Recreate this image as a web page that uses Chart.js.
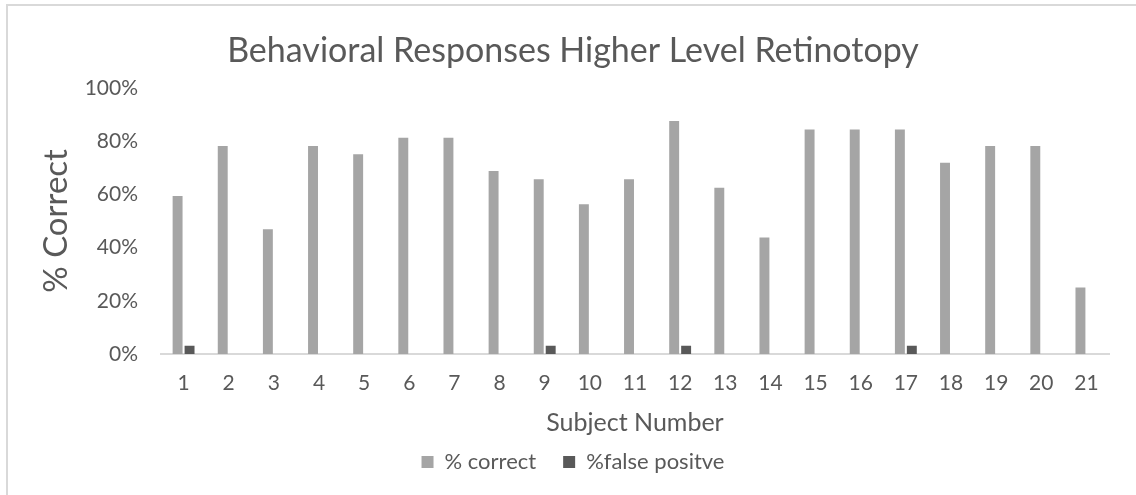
<!DOCTYPE html>
<html>
<head>
<meta charset="utf-8">
<script src="https://cdn.jsdelivr.net/npm/chart.js@4"></script>
<style>
  html, body { margin: 0; padding: 0; background: #fff; overflow: hidden; }
  #wrap { width: 1136px; height: 495px; }
</style>
</head>
<body>
<div id="wrap"><canvas id="grafico"></canvas></div>
<script>
// Datos
const sujetos = ["1","2","3","4","5","6","7","8","9","10","11","12","13","14","15","16","17","18","19","20","21"];
const pctCorrecto = [59.375, 78.125, 46.875, 78.125, 75, 81.25, 81.25, 68.75, 65.625, 56.25, 65.625, 87.5, 62.5, 43.75, 84.375, 84.375, 84.375, 71.875, 78.125, 78.125, 25];
const pctFalsoPositivo = [3.125, 0, 0, 0, 0, 0, 0, 0, 3.125, 0, 0, 3.125, 0, 0, 0, 0, 3.125, 0, 0, 0, 0];
const ticksY = [0, 20, 40, 60, 80, 100];

const FUENTE = "Lato, 'Open Sans', sans-serif";
const GRIS_TEXTO = "#595959";

// Marco alrededor del gráfico
const marco = {
    id: "marco",
    beforeDraw(chart) {
        const ctx = chart.ctx;
        ctx.save();
        ctx.fillStyle = "#fff";
        ctx.fillRect(0, 0, chart.width, chart.height);
        ctx.strokeStyle = "#d9d9d9";
        ctx.lineWidth = 2;
        ctx.strokeRect(7, 5, chart.width + 20, chart.height + 20);
        ctx.restore();
    }
};

const ctx = document.getElementById("grafico").getContext("2d");
new Chart(ctx, {
    type: "bar",
    data: {
        labels: sujetos,
        datasets: [
            {
                label: "% correct",
                data: pctCorrecto,
                backgroundColor: "#a5a5a5",
                categoryPercentage: 0.53,
                barPercentage: 0.83
            },
            {
                label: "%false positve",
                data: pctFalsoPositivo,
                backgroundColor: "#595959",
                categoryPercentage: 0.53,
                barPercentage: 0.83
            }
        ]
    },
    options: {
        responsive: true,
        maintainAspectRatio: false,
        animation: false,
        layout: { padding: { left: 37, right: 27, top: 0, bottom: 12 } },
        plugins: {
            title: {
                display: true,
                text: "Behavioral Responses Higher Level Retinotopy",
                color: GRIS_TEXTO,
                font: { family: FUENTE, size: 34, weight: "normal" },
                padding: { top: 31, bottom: 16 }
            },
            legend: {
                position: "bottom",
                labels: {
                    color: GRIS_TEXTO,
                    font: { family: FUENTE, size: 22 },
                    boxWidth: 12,
                    boxHeight: 12,
                    padding: 27
                }
            },
            tooltip: { enabled: false }
        },
        scales: {
            x: {
                afterFit: (scale) => { scale.height = 70; },
                grid: { display: false, drawTicks: false },
                border: { color: "#d9d9d9", width: 2 },
                ticks: {
                    color: GRIS_TEXTO,
                    font: { family: FUENTE, size: 21 },
                    padding: 17
                },
                title: {
                    display: true,
                    text: "Subject Number",
                    color: GRIS_TEXTO,
                    font: { family: FUENTE, size: 25, lineHeight: 1 },
                    padding: { top: 0, bottom: -11.5 }
                }
            },
            y: {
                min: 0,
                max: 100,
                afterFit: (scale) => { scale.width = 124; },
                afterBuildTicks: (scale) => { scale.ticks = ticksY.map(v => ({ value: v })); },
                grid: { display: false, drawTicks: false },
                border: { display: false },
                ticks: {
                    color: GRIS_TEXTO,
                    font: { family: FUENTE, size: 21 },
                    padding: 23,
                    callback: (v) => v + "%"
                },
                title: {
                    display: true,
                    text: "% Correct",
                    color: GRIS_TEXTO,
                    font: { family: FUENTE, size: 33 },
                    padding: { top: 0, bottom: 0 }
                }
            }
        }
    },
    plugins: [marco]
});
</script>
</body>
</html>
